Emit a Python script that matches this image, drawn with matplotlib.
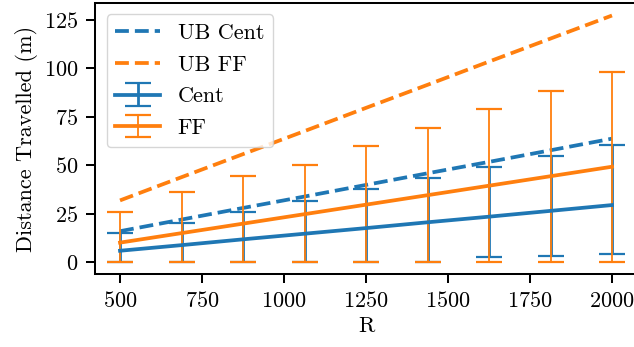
import matplotlib
matplotlib.use("Agg")
import matplotlib.pyplot as plt

plt.rcParams.update({
    "font.family": "serif",
    "font.serif": ["cmr10"],
    "mathtext.fontset": "cm",
    "axes.formatter.use_mathtext": True,
    "axes.unicode_minus": False,
    "font.size": 16,
    "axes.linewidth": 1.45,
    "xtick.major.size": 6.3,
    "ytick.major.size": 6.3,
    "xtick.major.width": 1.45,
    "ytick.major.width": 1.45,
    "xtick.major.pad": 6,
    "ytick.major.pad": 6,
})

R = [500, 687.5, 875, 1062.5, 1250, 1437.5, 1625, 1812.5, 2000]

ub_cent = [15.9, 21.9, 27.9, 33.8, 39.8, 45.8, 51.7, 57.7, 63.7]
ub_ff = [31.8, 43.8, 55.7, 67.6, 79.6, 91.5, 103.5, 115.4, 127.3]

cent_mean = [5.8, 8.7, 11.7, 14.6, 17.5, 20.5, 23.4, 26.4, 29.4]
cent_min = [0.0, 0.0, 0.0, 0.0, 0.0, 0.0, 2.4, 3.3, 4.1]
cent_max = [14.8, 20.3, 26.0, 31.7, 37.5, 43.2, 49.2, 54.9, 60.4]

ff_mean = [10.0, 14.9, 19.8, 24.7, 29.6, 34.5, 39.4, 44.3, 49.2]
ff_min = [0.0, 0.0, 0.0, 0.0, 0.0, 0.0, 0.0, 0.0, 0.0]
ff_max = [25.6, 36.2, 44.4, 50.1, 59.8, 69.2, 78.9, 88.5, 98.1]

blue = "#1f77b4"
orange = "#ff7f0e"

fig = plt.figure(figsize=(6.34, 3.47), dpi=100)
ax = fig.add_axes([0.1505, 0.2095, 0.8536, 0.7813])

ax.plot(R, ub_cent, "--", color=blue, lw=2.7, label="UB Cent")
ax.plot(R, ub_ff, "--", color=orange, lw=2.7, label="UB FF")

cent_err = [[m - lo for m, lo in zip(cent_mean, cent_min)],
            [hi - m for m, hi in zip(cent_mean, cent_max)]]
ff_err = [[m - lo for m, lo in zip(ff_mean, ff_min)],
          [hi - m for m, hi in zip(ff_mean, ff_max)]]

ax.errorbar(R, cent_mean, yerr=cent_err, color=blue, lw=2.7,
            elinewidth=2.0, capsize=9.7, capthick=1.6, label="Cent")
ax.errorbar(R, ff_mean, yerr=ff_err, color=orange, lw=2.7,
            elinewidth=1.3, capsize=9.7, capthick=1.6, label="FF")

ax.set_xticks([500, 750, 1000, 1250, 1500, 1750, 2000])
ax.set_yticks([0, 25, 50, 75, 100, 125])
ax.set_xlabel("R")
ax.set_ylabel("Distance Travelled (m)")

ax.legend(loc="upper left", frameon=True, fancybox=True,
          framealpha=0.8, edgecolor="#cccccc", handlelength=2.0,
          borderpad=0.4, labelspacing=0.55)

fig.savefig("out.png", dpi=100)
